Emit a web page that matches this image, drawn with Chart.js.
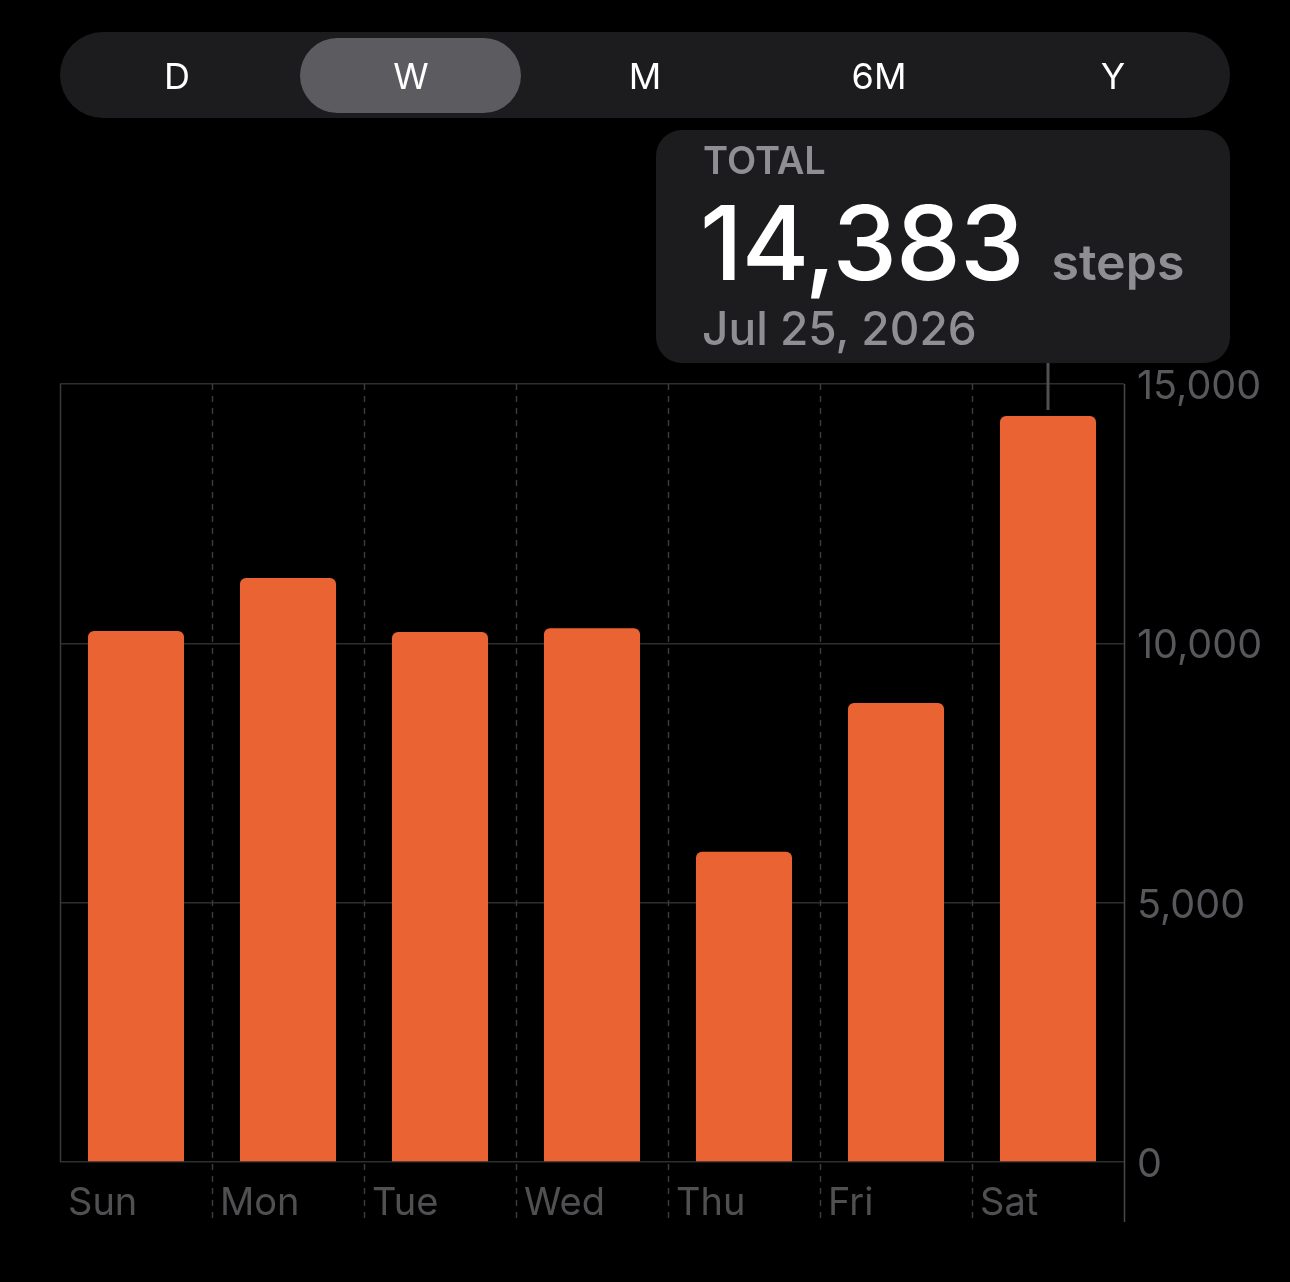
<!DOCTYPE html>
<html>
<head>
<meta charset="utf-8">
<script src="https://cdn.jsdelivr.net/npm/chart.js@4.4.1/dist/chart.umd.min.js"></script>
<style>
  html, body { margin: 0; padding: 0; background: #000; }
  body { width: 1290px; height: 1282px; position: relative; overflow: hidden; font-family: Inter, "Noto Sans", sans-serif; }
  #chart { position: absolute; left: 0; top: 0; }
  .seg { position: absolute; left: 60px; top: 32px; width: 1170px; height: 86px; border-radius: 43px; background: #1c1c1e; }
  .seg .pill { position: absolute; left: 240px; top: 6px; width: 221px; height: 75px; border-radius: 38px; background: #5c5c60; }
  .seg span { position: absolute; top: 1px; width: 234px; height: 86px; line-height: 86px; text-align: center; color: #fff; font-size: 36px; }
  .card { position: absolute; left: 656px; top: 130px; width: 574px; height: 233px; border-radius: 26px; background: #1c1c1e; }
  .card .lbl { position: absolute; left: 47px; top: 7px; font-size: 38px; font-weight: 600; color: #8e8e93; }
  .card .big { position: absolute; left: 44px; top: 50px; font-size: 103px; font-weight: 500; color: #fff; letter-spacing: -1px; white-space: nowrap; }
  .card .unit { font-size: 50px; font-weight: 600; color: #8e8e93; margin-left: 28px; letter-spacing: 0; }
  .card .date { position: absolute; left: 46px; top: 170px; font-size: 46px; font-weight: 500; color: #8e8e93; }
</style>
</head>
<body>
<canvas id="chart" width="1290" height="1282"></canvas>

<div class="seg">
  <div class="pill"></div>
  <span style="left:0">D</span>
  <span style="left:234px">W</span>
  <span style="left:468px">M</span>
  <span style="left:702px">6M</span>
  <span style="left:936px">Y</span>
</div>

<div class="card">
  <div class="lbl">TOTAL</div>
  <div class="big">14,383<span class="unit">steps</span></div>
  <div class="date">Jul 25, 2026</div>
</div>

<script>
// week of steps
const days = ['Sun', 'Mon', 'Tue', 'Wed', 'Thu', 'Fri', 'Sat'];
const steps = [10240, 11260, 10220, 10290, 5980, 8850, 14383];
const yTicks = [0, 5000, 10000, 15000];
const selectedDay = 6;

// dashed column dividers + indicator stem above selected bar
const weekGrid = {
  id: 'weekGrid',
  beforeDatasetsDraw(chart) {
    const ctx = chart.ctx;
    const area = chart.chartArea;
    const xs = chart.scales.x;
    const colW = (area.right - area.left) / days.length;
    ctx.save();
    ctx.lineWidth = 1.5;
    for (let i = 0; i <= days.length; i++) {
      const x = Math.round(xs.getPixelForValue(0) - colW / 2 + i * colW) + 0.5;
      ctx.beginPath();
      if (i === 0) {
        ctx.setLineDash([]);
        ctx.strokeStyle = '#3a3a3c';
        ctx.moveTo(x, area.top);
        ctx.lineTo(x, area.bottom);
      } else if (i === days.length) {
        ctx.setLineDash([]);
        ctx.strokeStyle = '#48484a';
        ctx.moveTo(x, area.top);
        ctx.lineTo(x, area.bottom + 60);
      } else {
        ctx.setLineDash([6, 6]);
        ctx.strokeStyle = '#3a3a3c';
        ctx.moveTo(x, area.top);
        ctx.lineTo(x, area.bottom + 60);
      }
      ctx.stroke();
    }
    ctx.restore();
  },
  afterDatasetsDraw(chart) {
    const bar = chart.getDatasetMeta(0).data[selectedDay];
    const ctx = chart.ctx;
    ctx.save();
    ctx.strokeStyle = '#505052';
    ctx.lineWidth = 3;
    ctx.beginPath();
    ctx.moveTo(bar.x, 363);
    ctx.lineTo(bar.x, bar.y - 6);
    ctx.stroke();
    ctx.restore();
  }
};

Chart.defaults.font.family = 'Inter, "Noto Sans", sans-serif';

new Chart(document.getElementById('chart'), {
  type: 'bar',
  data: {
    labels: days,
    datasets: [{
      data: steps,
      backgroundColor: '#ea6333',
      borderRadius: 6,
      borderSkipped: 'start',
      categoryPercentage: 1,
      barPercentage: 0.632
    }]
  },
  options: {
    responsive: false,
    devicePixelRatio: 1,
    animation: false,
    layout: { padding: { left: 60, top: 384, right: 0, bottom: 0 } },
    plugins: { legend: { display: false }, tooltip: { enabled: false } },
    scales: {
      x: {
        grid: { display: false },
        border: { display: false },
        ticks: {
          align: 'start',
          labelOffset: -68,
          padding: 11,
          color: '#505053',
          font: { size: 38 }
        },
        afterFit(s) { s.height = 120; }
      },
      y: {
        position: 'right',
        min: 0,
        max: 15000,
        afterBuildTicks(s) { s.ticks = yTicks.map(v => ({ value: v })); },
        grid: { color: '#2e2e30', lineWidth: 1.5, drawTicks: false },
        border: { display: false },
        ticks: {
          padding: 13,
          labelOffset: 3,
          color: '#58585c',
          font: { size: 39.5 },
          callback: v => v.toLocaleString('en-US')
        },
        afterFit(s) { s.width = 166; }
      }
    }
  },
  plugins: [weekGrid]
});
</script>
</body>
</html>
